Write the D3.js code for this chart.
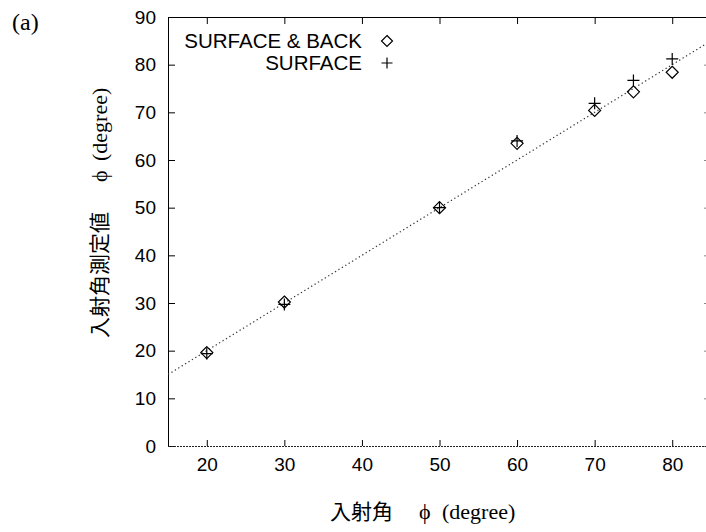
<!DOCTYPE html>
<html>
<head>
<meta charset="utf-8">
<script src="https://cdn.jsdelivr.net/npm/d3@7"></script>
<style>
  body { margin: 0; background: #fff; overflow: hidden; }
  svg { display: block; }
</style>
</head>
<body>
<svg id="chart" width="706" height="532"></svg>
<script>
// Incident angle set on the stage (degree)
const incidentAngles = [20, 30, 50, 60, 70, 75, 80];
// Measured incident angle, reflections from surface and back
const surfaceBack = [19.6, 30.2, 50.0, 63.5, 70.4, 74.3, 78.4];
// Measured incident angle, surface reflection only
const surfaceOnly = [19.4, 29.7, 50.0, 64.0, 71.9, 76.7, 81.2];

const seriesNames = ["SURFACE & BACK", "SURFACE"];
const xTicks = [20, 30, 40, 50, 60, 70, 80];
const yTicks = [0, 10, 20, 30, 40, 50, 60, 70, 80, 90];
const xDomain = [15, 85];
const yDomain = [0, 90];

const svg = d3.select("#chart");
// The right border lies just past the drawing's edge
const plotL = 168, plotR = 711, plotT = 17, plotB = 446;
const sansFont = "'Liberation Sans', Arial, sans-serif";
const serifFont = "'Liberation Serif', 'Times New Roman', serif";
const cjkFont = "'Noto Sans CJK JP', 'Noto Sans CJK SC', sans-serif";

const x = d3.scaleLinear().domain(xDomain).range([plotL, plotR]);
const y = d3.scaleLinear().domain(yDomain).range([plotB, plotT]);

// Panel tag
svg.append("text").attr("x", 12).attr("y", 30)
  .attr("font-family", serifFont).attr("font-size", 24).text("(a)");

// Clip region for the plot area
svg.append("defs").append("clipPath").attr("id", "plotClip")
  .append("rect").attr("x", plotL).attr("y", plotT)
  .attr("width", plotR - plotL).attr("height", plotB - plotT);

// Axes (ticks pointing inward, mirrored on top/right)
const styleAxis = g => {
  g.select(".domain").remove();
  g.selectAll(".tick line").attr("stroke", "#000").attr("stroke-width", 1);
  g.selectAll(".tick text").attr("font-family", sansFont).attr("font-size", 19).attr("fill", "#000");
};

svg.append("g").attr("transform", `translate(${plotL},0)`)
  .call(d3.axisLeft(y).tickValues(yTicks).tickSize(-7).tickPadding(12).tickFormat(d3.format("d")))
  .call(styleAxis);

svg.append("g").attr("transform", `translate(0,${plotB})`)
  .call(d3.axisBottom(x).tickValues(xTicks).tickSize(-6).tickPadding(12).tickFormat(d3.format("d")))
  .call(styleAxis);

svg.append("g").attr("transform", `translate(0,${plotT})`)
  .call(d3.axisTop(x).tickValues(xTicks).tickSize(-7).tickFormat(""))
  .call(styleAxis);

svg.append("g").attr("transform", `translate(${plotR},0)`)
  .call(d3.axisRight(y).tickValues(yTicks).tickSize(-7).tickFormat(""))
  .call(g => { styleAxis(g); g.selectAll(".tick line").attr("stroke", "#888"); });

// Frame: solid left and top, dotted zero line at the bottom
svg.append("line").attr("x1", plotL + 0.5).attr("x2", plotL + 0.5)
  .attr("y1", plotT).attr("y2", plotB).attr("stroke", "#000").attr("stroke-width", 1);
svg.append("line").attr("x1", plotL).attr("x2", plotR)
  .attr("y1", plotT + 0.5).attr("y2", plotT + 0.5).attr("stroke", "#000").attr("stroke-width", 1);
svg.append("line").attr("x1", plotL).attr("x2", plotR)
  .attr("y1", y(0) + 0.5).attr("y2", y(0) + 0.5)
  .attr("stroke", "#222").attr("stroke-width", 1.2).attr("stroke-dasharray", "2,1");

// Ideal response: measured = set angle
const plot = svg.append("g").attr("clip-path", "url(#plotClip)");
plot.append("path")
  .datum(xDomain)
  .attr("d", d3.line().x(d => x(d)).y(d => y(d)))
  .attr("fill", "none").attr("stroke", "#333").attr("stroke-width", 1.2)
  .attr("stroke-dasharray", "1.3,2.7");

const markSize = 6;
const diamondPath = (cx, cy, r = markSize) => `M${cx},${cy - r}L${cx + r},${cy}L${cx},${cy + r}L${cx - r},${cy}Z`;
const plusPath = (cx, cy, r = markSize) => `M${cx - r},${cy}H${cx + r}M${cx},${cy - r}V${cy + r}`;

const backData = incidentAngles.map((a, i) => ({ a, v: surfaceBack[i] }));
const surfData = incidentAngles.map((a, i) => ({ a, v: surfaceOnly[i] }));

plot.selectAll(".diamond").data(backData).join("path")
  .attr("class", "diamond")
  .attr("d", d => diamondPath(x(d.a), y(d.v)))
  .attr("fill", "none").attr("stroke", "#000").attr("stroke-width", 1.2);

plot.selectAll(".plus").data(surfData).join("path")
  .attr("class", "plus")
  .attr("d", d => plusPath(x(d.a), y(d.v)))
  .attr("fill", "none").attr("stroke", "#000").attr("stroke-width", 1.2);

// Legend
const legend = svg.append("g");
const legendRows = [
  { name: seriesNames[0], path: diamondPath },
  { name: seriesNames[1], path: plusPath }
];
legendRows.forEach((row, i) => {
  const cy = 41 + i * 22;
  legend.append("text").attr("x", 362).attr("y", cy).attr("dy", "0.35em")
    .attr("text-anchor", "end").attr("font-family", sansFont).attr("font-size", 20.5)
    .text(row.name);
  legend.append("path").attr("d", row.path(387, cy, 5.5))
    .attr("fill", "none").attr("stroke", "#000").attr("stroke-width", 1.2);
});

// X axis title
const xTitle = svg.append("text").attr("y", 519).attr("font-size", 21);
xTitle.append("tspan").attr("x", 330).attr("font-family", cjkFont).text("入射角");
xTitle.append("tspan").attr("x", 419).attr("font-family", serifFont).attr("font-size", 22).text("ϕ");
xTitle.append("tspan").attr("x", 442).attr("font-family", serifFont).attr("font-size", 22).text("(degree)");

// Y axis title
const yTitle = svg.append("text").attr("transform", "translate(107,338) rotate(-90)").attr("font-size", 21);
yTitle.append("tspan").attr("x", 0).attr("font-family", cjkFont).text("入射角測定値");
yTitle.append("tspan").attr("x", 156).attr("font-family", serifFont).attr("font-size", 22).text("ϕ");
yTitle.append("tspan").attr("x", 177).attr("font-family", serifFont).attr("font-size", 22).text("(degree)");
</script>
</body>
</html>
